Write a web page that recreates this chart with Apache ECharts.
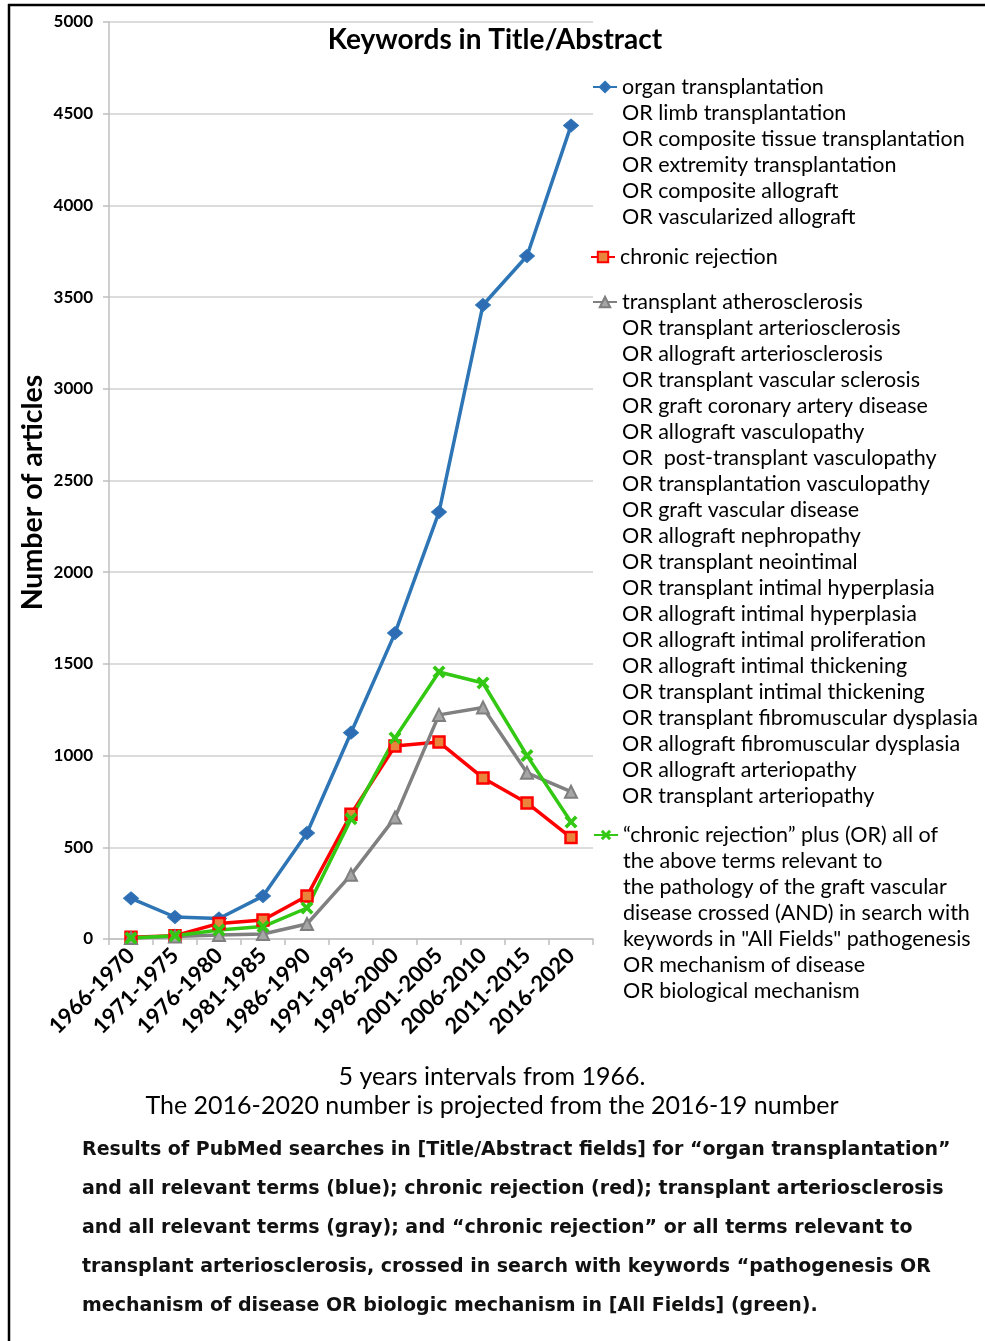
<!DOCTYPE html>
<html>
<head>
<meta charset="utf-8">
<script src="https://cdn.jsdelivr.net/npm/echarts@6/dist/echarts.min.js"></script>
<style>
  html, body { margin: 0; padding: 0; background: #fff; }
  #chart { width: 985px; height: 1341px; }
</style>
</head>
<body>
<div id="chart"></div>
<script>
// 5-year intervals
var categories = ['1966-1970', '1971-1975', '1976-1980', '1981-1985', '1986-1990', '1991-1995',
  '1996-2000', '2001-2005', '2006-2010', '2011-2015', '2016-2020']

// number of articles per interval
var organData = [222, 120, 112, 234, 578, 1125, 1668, 2328, 3457, 3724, 4435]
var rejectionData = [10, 18, 85, 104, 234, 680, 1052, 1074, 878, 742, 553]
var atheroData = [5, 14, 22, 27, 82, 350, 662, 1222, 1262, 906, 803]
var combinedData = [5, 18, 49, 68, 169, 655, 1096, 1456, 1396, 1000, 638]

var yMax = 5000
var yStep = 500

var organNote = ['OR limb transplantation', 'OR composite tissue transplantation', 'OR extremity transplantation',
  'OR composite allograft', 'OR vascularized allograft']
var atheroNote = ['OR transplant arteriosclerosis', 'OR allograft arteriosclerosis', 'OR transplant vascular sclerosis',
  'OR graft coronary artery disease', 'OR allograft vasculopathy', 'OR  post-transplant vasculopathy',
  'OR transplantation vasculopathy', 'OR graft vascular disease', 'OR allograft nephropathy',
  'OR transplant neointimal', 'OR transplant intimal hyperplasia', 'OR allograft intimal hyperplasia',
  'OR allograft intimal proliferation', 'OR allograft intimal thickening', 'OR transplant intimal thickening',
  'OR transplant fibromuscular dysplasia', 'OR allograft fibromuscular dysplasia', 'OR allograft arteriopathy',
  'OR transplant arteriopathy']
var combinedNote = ['the above terms relevant to', 'the pathology of the graft vascular',
  'disease crossed (AND) in search with', 'keywords in "All Fields" pathogenesis',
  'OR mechanism of disease', 'OR biological mechanism']
var captionLines = ['5 years intervals from 1966.', 'The 2016-2020 number is projected from the 2016-19 number']
var footnoteLines = [
  'Results of PubMed searches in [Title/Abstract fields] for \u201corgan transplantation\u201d',
  'and all relevant terms (blue); chronic rejection (red); transplant arteriosclerosis',
  'and all relevant terms (gray); and \u201cchronic rejection\u201d or all terms relevant to',
  'transplant arteriosclerosis, crossed in search with keywords \u201cpathogenesis OR',
  'mechanism of disease OR biologic mechanism in [All Fields] (green).'
]

var names = ['organ transplantation', 'chronic rejection', 'transplant atherosclerosis',
  '\u201cchronic rejection\u201d plus (OR) all of']

var xMark = 'path://M0,2 L2,0 L5,3 L8,0 L10,2 L7,5 L10,8 L8,10 L5,7 L2,10 L0,8 L3,5 Z'
var legendFont = { fontFamily: 'Lato', fontSize: 21.5, color: '#000', lineHeight: 26 }

function legendAt(name, left, top) {
  return {
    data: [name],
    left: left,
    top: top,
    padding: 0,
    itemWidth: 24,
    itemHeight: 13,
    selectedMode: false,
    textStyle: legendFont
  }
}

function noteText(lines, x, y) {
  return {
    type: 'text',
    x: x,
    y: y,
    style: {
      text: lines.join('\n'),
      font: '21.5px Lato',
      lineHeight: 26,
      fill: '#000',
      verticalAlign: 'top'
    }
  }
}

var chart = echarts.init(document.getElementById('chart'))

chart.setOption({
  animation: false,
  backgroundColor: '#fff',
  grid: { left: 109, right: 392, top: 22, bottom: 402 },
  legend: [
    legendAt(names[0], 592, 74),
    legendAt(names[1], 590, 244),
    legendAt(names[2], 592, 289),
    legendAt(names[3], 593, 822)
  ],
  xAxis: {
    type: 'category',
    data: categories,
    boundaryGap: true,
    axisLine: { lineStyle: { color: '#BFBFBF', width: 1.5 } },
    axisTick: { show: true, length: 6, lineStyle: { color: '#BFBFBF', width: 1.5 } },
    axisLabel: {
      rotate: 45,
      interval: 0,
      margin: 13,
      color: '#000',
      fontFamily: 'Lato',
      fontWeight: 'bold',
      fontSize: 22
    }
  },
  yAxis: {
    type: 'value',
    min: 0,
    max: yMax,
    interval: yStep,
    name: 'Number of articles',
    nameLocation: 'middle',
    nameGap: 62,
    nameTextStyle: { fontFamily: 'Lato', fontWeight: 'bold', fontSize: 28.5, color: '#000', padding: [0, 24, 0, 0] },
    axisLine: { show: true, lineStyle: { color: '#BFBFBF', width: 1.5 } },
    axisTick: { show: true, length: 6, lineStyle: { color: '#BFBFBF', width: 1.5 } },
    axisLabel: {
      margin: 16, color: '#000', fontFamily: 'Lato', fontWeight: 'bold', fontSize: 17,
      formatter: function (v) { return String(v) }
    },
    splitLine: { lineStyle: { color: '#D0D0D0', width: 1.5 } }
  },
  series: [
    {
      name: names[0],
      type: 'line',
      data: organData,
      symbol: 'diamond',
      symbolSize: [15, 13],
      lineStyle: { color: '#2E75B6', width: 3.5 },
      itemStyle: { color: '#2E6DB4', borderColor: '#2E75B6', borderWidth: 1 }
    },
    {
      name: names[1],
      type: 'line',
      data: rejectionData,
      symbol: 'rect',
      symbolSize: 11,
      lineStyle: { color: '#FF0000', width: 3.5 },
      itemStyle: { color: '#E8843C', borderColor: '#FF0000', borderWidth: 2.5 }
    },
    {
      name: names[2],
      type: 'line',
      data: atheroData,
      symbol: 'triangle',
      symbolSize: 12,
      lineStyle: { color: '#808080', width: 3.5 },
      itemStyle: { color: '#A6A6A6', borderColor: '#7F7F7F', borderWidth: 2 }
    },
    {
      name: names[3],
      type: 'line',
      data: combinedData,
      symbol: xMark,
      symbolSize: 13,
      lineStyle: { color: '#33C814', width: 3.5 },
      itemStyle: { color: '#33C814' }
    }
  ],
  graphic: [
    // frame
    { type: 'line', shape: { x1: 8, y1: 5, x2: 985, y2: 5 }, style: { stroke: '#000', lineWidth: 2.5 } },
    { type: 'line', shape: { x1: 9, y1: 4, x2: 9, y2: 1341 }, style: { stroke: '#000', lineWidth: 2.5 } },
    {
      type: 'text', x: 495, y: 40,
      style: { text: 'Keywords in Title/Abstract', font: 'bold 28px Lato', fill: '#000', align: 'center', verticalAlign: 'middle' }
    },
    noteText(organNote, 622, 100),
    noteText(atheroNote, 622, 315),
    noteText(combinedNote, 623, 848),
    {
      type: 'text', x: 492, y: 1062,
      style: { text: captionLines.join('\n'), font: '25px Lato', lineHeight: 29, fill: '#000', align: 'center', verticalAlign: 'top' }
    },
    {
      type: 'text', x: 82, y: 1131,
      style: { text: footnoteLines.join('\n'), font: 'bold 19px "DejaVu Sans"', lineHeight: 39, fill: '#111', verticalAlign: 'top' }
    }
  ]
})
</script>
</body>
</html>
